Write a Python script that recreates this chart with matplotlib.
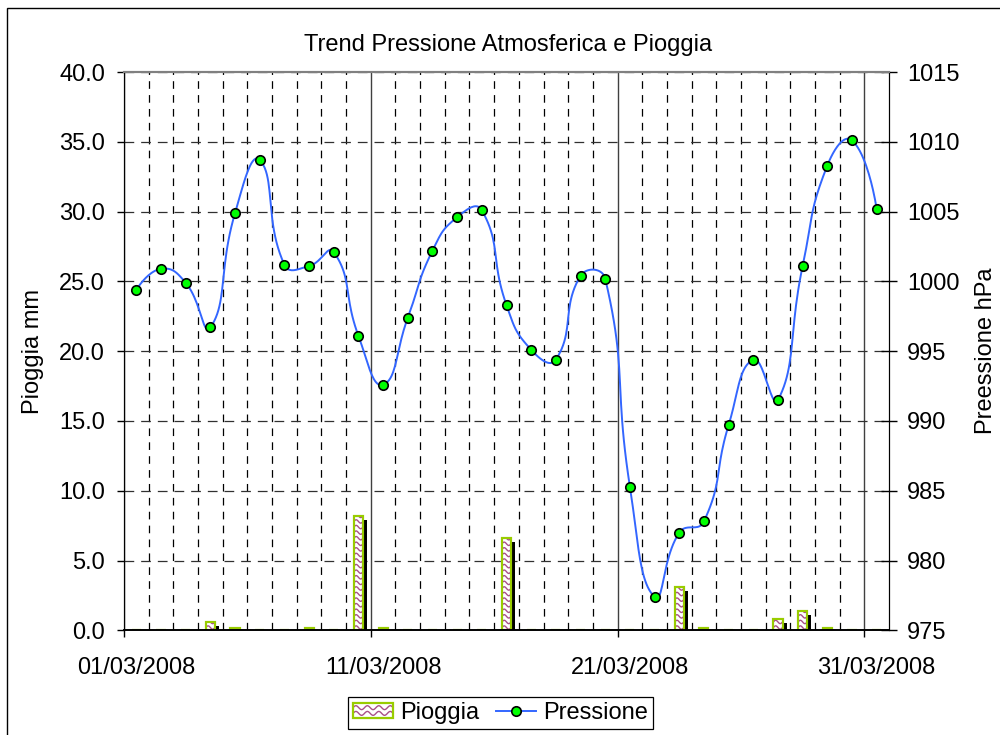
import numpy as np
import matplotlib
matplotlib.use("Agg")
import matplotlib.pyplot as plt
import matplotlib.patheffects as pe
from matplotlib.patches import Rectangle, Patch
from matplotlib.lines import Line2D
from matplotlib.collections import LineCollection
from matplotlib.legend_handler import HandlerBase

# --------------------------------------------------------------
# Data - March 2008, one value per day
# --------------------------------------------------------------
days = ["%02d/03/2008" % d for d in range(1, 32)]
label_days = ["01/03/2008", "11/03/2008", "21/03/2008", "31/03/2008"]

pioggia_mm = [0, 0, 0, 0.6, 0.2, 0, 0, 0.2, 0, 8.2,
              0.2, 0, 0, 0, 0, 6.6, 0, 0, 0, 0,
              0, 0, 3.1, 0.2, 0, 0, 0.8, 1.4, 0.2, 0, 0]

pressione_hpa = [999.4, 1000.9, 999.9, 996.7, 1004.9, 1008.7, 1001.2, 1001.1, 1002.1, 996.1,
                 992.6, 997.4, 1002.2, 1004.6, 1005.1, 998.3, 995.1, 994.4, 1000.4, 1000.2,
                 985.3, 977.4, 982.0, 982.8, 989.7, 994.4, 991.5, 1001.1, 1008.3, 1010.1, 1005.2]

# colours
BAR_EDGE = "#99CC00"
WAVE = "#A85088"
LINE_BLUE = "#3366FF"
MARKER_GREEN = "#00FF00"

plt.rcParams["font.family"] = ["Liberation Sans", "DejaVu Sans"]
plt.rcParams["lines.scale_dashes"] = False
FS = 17


def smooth_curve(x, y, sx=1.0, sy=1.0, t=0.5, n=24):
    """Excel-like smoothed line: Bezier handles scaled by the neighbouring
    segment lengths (measured in screen units via sx, sy)."""
    P = np.column_stack([np.asarray(x, float) * sx, np.asarray(y, float) * sy])
    m = len(P)
    c_in = P.copy()
    c_out = P.copy()
    for i in range(1, m - 1):
        d01 = np.hypot(*(P[i] - P[i - 1]))
        d12 = np.hypot(*(P[i + 1] - P[i]))
        tan = P[i + 1] - P[i - 1]
        c_in[i] = P[i] - t * d01 / (d01 + d12) * tan
        c_out[i] = P[i] + t * d12 / (d01 + d12) * tan
    tt = np.linspace(0, 1, n)[:, None]
    pts = []
    for i in range(m - 1):
        p0, p3 = P[i], P[i + 1]
        c1, c2 = c_out[i], c_in[i + 1]
        seg = ((1 - tt) ** 3) * p0 + 3 * ((1 - tt) ** 2) * tt * c1 + 3 * (1 - tt) * tt ** 2 * c2 + tt ** 3 * p3
        pts.append(seg)
    pts = np.vstack(pts)
    return pts[:, 0] / sx, pts[:, 1] / sy


def add_waves(ax, bar):
    """Wavy hatch inside one bar, clipped to the bar."""
    x0, w, h = bar.get_x(), bar.get_width(), bar.get_height()
    if h <= 0:
        return
    xs = np.linspace(x0, x0 + w, 30)
    segs = []
    for base in np.arange(0.2, h + 0.4, 0.4):
        ys = base + 0.12 * np.sin(2 * np.pi * (xs - x0) / w)
        segs.append(np.column_stack([xs, ys]))
    lc = LineCollection(segs, colors=WAVE, linewidths=1.0, zorder=2.1)
    ax.add_collection(lc)
    lc.set_clip_path(bar)


class WaveHandler(HandlerBase):
    def create_artists(self, legend, orig_handle, xdescent, ydescent,
                       width, height, fontsize, trans):
        x0, y0 = -xdescent, -ydescent
        fill = Rectangle((x0, y0), width, height, facecolor="white",
                         edgecolor="none", transform=trans)
        xs = np.linspace(x0, x0 + width, 80)
        waves = []
        for frac in (0.32, 0.70):
            ys = y0 + height * frac + height * 0.13 * np.sin(2 * np.pi * (xs - x0) / (width / 3.5))
            waves.append(Line2D(xs, ys, color=WAVE, lw=1.0, transform=trans))
        edge = Rectangle((x0, y0), width, height, facecolor="none",
                         edgecolor=BAR_EDGE, lw=1.6, transform=trans)
        return [fill] + waves + [edge]


# --------------------------------------------------------------
# Figure
# --------------------------------------------------------------
fig = plt.figure(figsize=(10, 7.35), dpi=100)
ax = fig.add_axes([0.124, 0.1424, 0.765, 0.7596])
ax2 = ax.twinx()

x = np.arange(len(days)) + 0.5

# ---------- rain bars (left axis) ----------
ax.set_axisbelow(True)
shadow = [pe.SimplePatchShadow(offset=(3, -3), shadow_rgbFace="black", alpha=1.0), pe.Normal()]
bars = ax.bar(x, pioggia_mm, width=0.37, facecolor="white", edgecolor=BAR_EDGE,
              linewidth=1.5, zorder=2)
for b in bars:
    b.set_path_effects(shadow)
    add_waves(ax, b)
ax.bar(x, pioggia_mm, width=0.37, fill=False, edgecolor=BAR_EDGE, linewidth=1.5, zorder=2.2)

# ---------- pressure line (right axis) ----------
# pixel scales: ~24.67 px per day, ~13.96 px per hPa
sx_, sy_ = smooth_curve(x, pressione_hpa, sx=24.67, sy=13.96)
ax2.plot(sx_, sy_, color=LINE_BLUE, lw=1.4, zorder=3)
ax2.plot(x, pressione_hpa, ls="none", marker="o", ms=6.8, mfc=MARKER_GREEN,
         mec="black", mew=1.2, zorder=4)

# ---------- axes limits & ticks ----------
ax.set_xlim(0, 31)
ax.set_ylim(0, 40)
ax2.set_ylim(975, 1015)

ax.set_xticks([0, 10, 20, 30])
ax.set_xticklabels([])
ax.set_xticks([days.index(d) + 0.5 for d in label_days], minor=True)
ax.set_xticklabels(label_days, minor=True)
ax.tick_params(axis="x", which="major", direction="out", length=5, width=1, color="black")
ax.tick_params(axis="x", which="minor", length=0, pad=19, labelsize=FS)

ax.set_yticks(np.arange(0, 41, 5))
ax.set_yticklabels(["%.1f" % v for v in np.arange(0, 41, 5)])
ax.tick_params(axis="y", direction="out", length=5, width=1, pad=8.5, labelsize=FS)

ax2.set_yticks(np.arange(975, 1016, 5))
ax2.tick_params(axis="y", direction="inout", length=11, width=1, pad=7.5, labelsize=FS)

ax.set_ylabel("Pioggia mm", fontsize=FS, labelpad=11)
ax2.set_ylabel("Preessione hPa", fontsize=FS, labelpad=11)

# ---------- grid ----------
ax.yaxis.grid(True, ls=(0, (7, 5)), color="#303030", lw=0.9)
ax.xaxis.grid(True, which="major", ls="-", color="#404040", lw=1.0)
minor_days = [d for d in range(1, 31) if d % 10 != 0]
ax.vlines(minor_days, 0, 40, colors="black", linestyles=(0, (5.5, 4.5)), lw=0.9, zorder=0.5)

for a in (ax, ax2):
    a.spines["top"].set_color("#808080")
    a.spines["top"].set_linewidth(1.5)
    a.spines["left"].set_color("black")
    a.spines["right"].set_color("black")
    a.spines["bottom"].set_color("black")
    a.spines["bottom"].set_linewidth(1.2)
ax.patch.set_facecolor("white")

# ---------- title, legend, chart border ----------
fig.text(0.5085, 1 - 45 / 735, "Trend Pressione Atmosferica e Pioggia",
         ha="center", va="center", fontsize=FS)

rain_handle = Patch(facecolor="white", edgecolor=BAR_EDGE)
press_handle = Line2D([], [], color=LINE_BLUE, lw=1.4, marker="o", ms=6.8,
                      mfc=MARKER_GREEN, mec="black", mew=1.2)
leg = fig.legend(handles=[rain_handle, press_handle], labels=["Pioggia", "Pressione"],
                 handler_map={rain_handle: WaveHandler()}, ncol=2, loc="center",
                 bbox_to_anchor=(0.5005, 1 - 713 / 735), fontsize=FS, frameon=True,
                 fancybox=False, framealpha=1, edgecolor="black", borderpad=0.2,
                 handlelength=1.7, handleheight=0.6, handletextpad=0.3,
                 columnspacing=0.7, borderaxespad=0)
leg.get_frame().set_linewidth(0.9)

fig.add_artist(Rectangle((0.007, -0.01), 1.1, 1.0 - 8 / 735 + 0.01,
                         transform=fig.transFigure, fill=False,
                         edgecolor="black", lw=1.0))

fig.savefig("out.png", dpi=100)
